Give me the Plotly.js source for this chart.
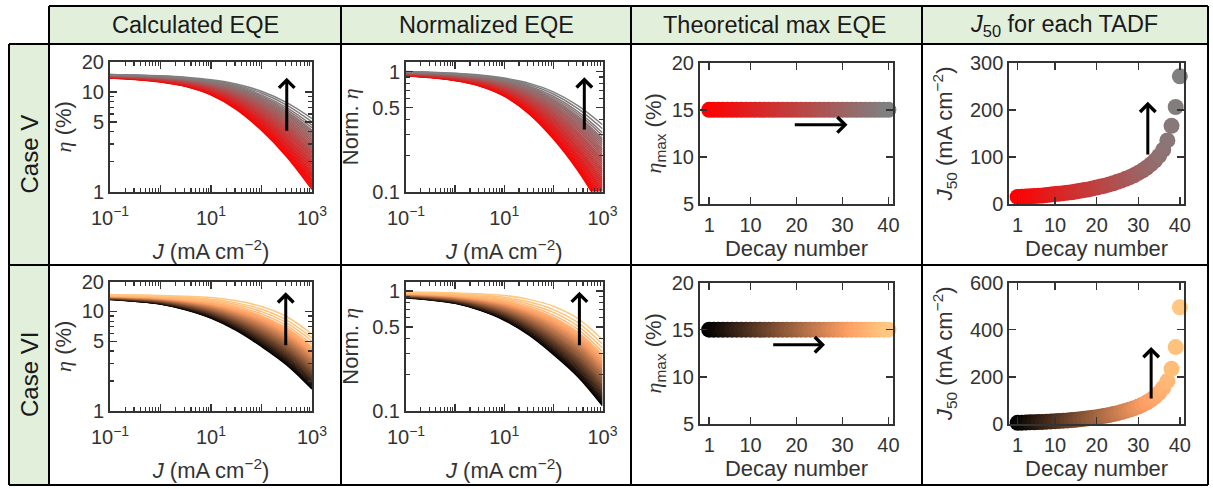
<!DOCTYPE html>
<html><head><meta charset="utf-8">
<script src="https://cdn.plot.ly/plotly-3.0.1.min.js"></script>
<style>html,body{margin:0;padding:0;background:#fff}#chart{width:1213px;height:489px}</style>
</head><body><div id="chart"></div>
<script>
// ---------------- DATA ----------------
const decayNumber = [1,2,3,4,5,6,7,8,9,10,11,12,13,14,15,16,17,18,19,20,21,22,23,24,25,26,27,28,29,30,31,32,33,34,35,36,37,38,39,40];
const J_grid = [0.1, 0.316, 1, 3.16, 10, 31.6, 100, 316, 1000]; // mA cm^-2

// Case V: EQE (%) — one row per J_grid value, one entry per decay number (1..40)
const etaV = [
[13.84,13.87,13.89,13.92,13.94,13.97,14.00,14.03,14.06,14.08,14.11,14.14,14.16,14.19,14.21,14.24,14.27,14.30,14.32,14.35,14.38,14.41,14.44,14.46,14.49,14.52,14.55,14.58,14.60,14.63,14.66,14.69,14.72,14.74,14.77,14.80,14.84,14.89,14.94,15.00],
[13.37,13.40,13.44,13.47,13.50,13.53,13.56,13.60,13.63,13.67,13.70,13.73,13.77,13.80,13.84,13.87,13.91,13.94,13.98,14.01,14.05,14.08,14.12,14.15,14.19,14.22,14.26,14.29,14.33,14.36,14.40,14.44,14.47,14.51,14.54,14.58,14.63,14.69,14.75,14.83],
[12.62,12.66,12.70,12.75,12.79,12.83,12.87,12.92,12.96,13.01,13.05,13.09,13.14,13.18,13.23,13.27,13.32,13.36,13.41,13.45,13.50,13.55,13.59,13.64,13.68,13.73,13.78,13.82,13.87,13.91,13.96,14.01,14.06,14.10,14.15,14.20,14.26,14.34,14.43,14.52],
[11.38,11.44,11.50,11.55,11.61,11.67,11.73,11.79,11.85,11.90,11.96,12.02,12.08,12.15,12.21,12.27,12.33,12.39,12.46,12.52,12.58,12.64,12.71,12.77,12.84,12.90,12.97,13.03,13.10,13.16,13.23,13.30,13.36,13.43,13.49,13.56,13.66,13.76,13.90,14.03],
[9.35,9.43,9.51,9.59,9.67,9.75,9.83,9.92,10.00,10.09,10.17,10.26,10.34,10.43,10.51,10.60,10.69,10.78,10.87,10.96,11.05,11.14,11.24,11.33,11.43,11.52,11.62,11.72,11.82,11.91,12.01,12.11,12.21,12.32,12.42,12.52,12.67,12.83,13.03,13.24],
[6.70,6.80,6.90,6.99,7.09,7.19,7.29,7.40,7.50,7.61,7.71,7.82,7.93,8.05,8.16,8.27,8.39,8.51,8.63,8.75,8.87,9.00,9.13,9.26,9.38,9.51,9.65,9.79,9.92,10.06,10.20,10.35,10.50,10.64,10.79,10.94,11.16,11.39,11.70,12.02],
[4.13,4.22,4.32,4.41,4.51,4.60,4.71,4.81,4.92,5.02,5.13,5.25,5.36,5.48,5.59,5.71,5.84,5.97,6.10,6.23,6.36,6.50,6.65,6.79,6.94,7.08,7.24,7.40,7.57,7.73,7.89,8.07,8.25,8.43,8.61,8.79,9.06,9.35,9.75,10.16],
[2.24,2.31,2.39,2.46,2.54,2.61,2.69,2.77,2.86,2.94,3.02,3.12,3.22,3.31,3.41,3.51,3.62,3.74,3.85,3.97,4.08,4.21,4.34,4.47,4.60,4.73,4.88,5.04,5.19,5.35,5.50,5.68,5.85,6.03,6.20,6.38,6.65,6.95,7.36,7.80],
[1.05,1.10,1.14,1.19,1.23,1.28,1.33,1.39,1.44,1.50,1.55,1.62,1.69,1.75,1.82,1.89,1.97,2.05,2.14,2.22,2.30,2.40,2.50,2.60,2.70,2.80,2.92,3.04,3.17,3.29,3.41,3.56,3.70,3.85,4.00,4.14,4.38,4.64,5.00,5.40]
];
// Case VI: EQE (%) — one row per J_grid value, one entry per decay number (1..40)
const etaVI = [
[13.21,13.24,13.27,13.31,13.34,13.37,13.40,13.43,13.47,13.50,13.53,13.56,13.59,13.63,13.66,13.69,13.72,13.75,13.79,13.82,13.85,13.88,13.92,13.95,13.99,14.02,14.05,14.09,14.12,14.16,14.19,14.22,14.26,14.29,14.33,14.36,14.43,14.52,14.61,14.72],
[12.65,12.69,12.73,12.77,12.81,12.85,12.89,12.93,12.98,13.02,13.06,13.10,13.15,13.19,13.24,13.28,13.32,13.36,13.41,13.45,13.49,13.53,13.58,13.62,13.67,13.71,13.75,13.80,13.84,13.89,13.93,13.98,14.02,14.07,14.11,14.16,14.26,14.38,14.51,14.66],
[11.86,11.91,11.97,12.02,12.07,12.12,12.17,12.23,12.28,12.34,12.39,12.44,12.50,12.55,12.61,12.66,12.72,12.78,12.83,12.89,12.95,13.01,13.06,13.12,13.17,13.23,13.29,13.35,13.41,13.47,13.53,13.59,13.65,13.71,13.77,13.83,13.96,14.12,14.29,14.49],
[10.40,10.47,10.54,10.62,10.69,10.76,10.84,10.91,10.99,11.06,11.14,11.22,11.30,11.37,11.45,11.53,11.61,11.69,11.77,11.85,11.93,12.01,12.10,12.18,12.27,12.35,12.44,12.52,12.61,12.69,12.78,12.87,12.96,13.04,13.13,13.22,13.42,13.66,13.92,14.22],
[8.57,8.66,8.75,8.85,8.94,9.03,9.13,9.22,9.32,9.41,9.51,9.61,9.71,9.82,9.92,10.02,10.13,10.24,10.34,10.45,10.56,10.67,10.79,10.90,11.02,11.13,11.25,11.37,11.48,11.60,11.72,11.85,11.97,12.10,12.22,12.35,12.63,12.99,13.35,13.80],
[6.46,6.56,6.66,6.76,6.86,6.96,7.07,7.18,7.28,7.39,7.50,7.62,7.73,7.85,7.96,8.08,8.21,8.33,8.46,8.58,8.71,8.85,8.98,9.12,9.25,9.39,9.54,9.68,9.83,9.97,10.12,10.28,10.44,10.59,10.75,10.91,11.27,11.72,12.20,12.79],
[4.45,4.54,4.64,4.73,4.83,4.92,5.03,5.13,5.24,5.34,5.45,5.57,5.68,5.80,5.91,6.03,6.16,6.29,6.41,6.54,6.67,6.81,6.95,7.10,7.24,7.38,7.54,7.70,7.85,8.01,8.17,8.34,8.52,8.69,8.87,9.04,9.45,9.97,10.52,11.22],
[2.90,2.97,3.05,3.12,3.20,3.27,3.36,3.44,3.53,3.61,3.70,3.80,3.89,3.99,4.08,4.18,4.29,4.40,4.51,4.62,4.73,4.85,4.97,5.10,5.22,5.34,5.48,5.62,5.76,5.90,6.04,6.20,6.35,6.51,6.66,6.82,7.19,7.67,8.19,8.85],
[1.66,1.71,1.76,1.81,1.86,1.91,1.97,2.02,2.08,2.13,2.19,2.26,2.32,2.39,2.45,2.52,2.60,2.67,2.75,2.82,2.90,2.99,3.07,3.16,3.24,3.33,3.43,3.53,3.63,3.73,3.83,3.94,4.06,4.17,4.29,4.40,4.67,5.03,5.41,5.92]
];
// Theoretical max EQE (%)
const etaMaxV  = [15,15,15,15,15,15,15,15,15,15,15,15,15,15,15,15,15,15,15,15,15,15,15,15,15,15,15,15,15,15,15,15,15,15,15,15,15,15,15,15];
const etaMaxVI = [15,15,15,15,15,15,15,15,15,15,15,15,15,15,15,15,15,15,15,15,15,15,15,15,15,15,15,15,15,15,15,15,15,15,15,15,15,15,15,15];
// J50 (mA cm^-2)
const J50_V  = [15,15.5,16,16.5,17,17.5,18,19,20,21,22,23,24,25,26.5,28,29.5,31,33,35,37,39,41.5,44,47,50,53.5,57,61,66,71,77,84,92,102,115,135,166,206,271];
const J50_VI = [5,5.5,6,7,7.5,8,9,10,11,12,13,14,15,17,18,20,22,24,26,29,32,35,38,42,46,51,56,61,67,74,82,91,102,115,132,153,182,234,326,495];

// tick labels
const logXTickVals = [0.1,1,10,100,1000];
const logXTickText = ['10<sup>−1</sup>','','10<sup>1</sup>','','10<sup>3</sup>'];
const logXMinor = [0.2,0.3,0.4,0.5,0.6,0.7,0.8,0.9,2,3,4,5,6,7,8,9,20,30,40,50,60,70,80,90,200,300,400,500,600,700,800,900];
const etaTickVals = [1,5,10,20];
const etaTickText = ['1','5','10','20'];
const etaMinor = [2,3,4,6,7,8,9];
const normTickVals = [0.1,0.5,1];
const normTickText = ['0.1','0.5','1'];
const normMinor = [0.2,0.3,0.4,0.6,0.7,0.8,0.9];
const decayTickVals = [1,10,20,30,40];
const maxTickVals = [5,10,15,20];
const j50TickValsV = [0,100,200,300];
const j50TickValsVI = [0,200,400,600];

// ---------------- STYLE / LAYOUT ----------------
const W=1213, H=489;
const FONT = 'Liberation Sans, Arial, sans-serif';
const px = x => x/W, py = y => 1 - y/H;
const csV  = [[0,[255,0,0]],[1,[128,128,128]]];
const csVI = [[0,[0,0,0]],[0.8,[255,159,101]],[1,[255,199,127]]];
const toPlotlyCS = cs => cs.map(s => [s[0], 'rgb('+s[1].join(',')+')']);
function colorAt(cs, t){
  for(let i=1;i<cs.length;i++){
    if(t<=cs[i][0]){
      const a=cs[i-1], b=cs[i], f=(t-a[0])/(b[0]-a[0]);
      return 'rgb('+a[1].map((v,k)=>Math.round(v+(b[1][k]-v)*f)).join(',')+')';
    }
  }
  return 'rgb('+cs[cs.length-1][1].join(',')+')';
}
const ETA = '<span style="font-family:Liberation Serif"><i>η</i></span>';

const traces = [];
function addCurves(eta, etaMax, cs, xa, ya, normalized){
  decayNumber.forEach((d,i)=>{
    const y = eta.map(col => normalized ? col[i]/etaMax[i] : col[i]);
    traces.push({
      type:'scatter', mode:'lines', x:J_grid, y:y,
      line:{color:colorAt(cs, i/(decayNumber.length-1)), width:1.5, shape:'spline', smoothing:1},
      xaxis:xa, yaxis:ya, hoverinfo:'skip', showlegend:false
    });
  });
}
function addMarkers(yvals, cs, xa, ya){
  traces.push({
    type:'scatter', mode:'markers', x:decayNumber, y:yvals,
    marker:{size:16, color:decayNumber, cmin:1, cmax:40, colorscale:toPlotlyCS(cs), line:{width:0}, opacity:1},
    cliponaxis:false, xaxis:xa, yaxis:ya, hoverinfo:'skip', showlegend:false
  });
}
addCurves(etaV, etaMaxV, csV, 'x', 'y', false);
addCurves(etaV, etaMaxV, csV, 'x2', 'y2', true);
addMarkers(etaMaxV, csV, 'x3', 'y3');
addMarkers(J50_V, csV, 'x4', 'y4');
addCurves(etaVI, etaMaxVI, csVI, 'x5', 'y5', false);
addCurves(etaVI, etaMaxVI, csVI, 'x6', 'y6', true);
addMarkers(etaMaxVI, csVI, 'x7', 'y7');
addMarkers(J50_VI, csVI, 'x8', 'y8');

const base = {
  showline:true, linecolor:'#333', linewidth:2, mirror:'ticks',
  ticks:'inside', ticklen:7, tickwidth:1.5, tickcolor:'#333',
  showgrid:false, zeroline:false, fixedrange:true,
  tickfont:{family:FONT, size:20, color:'#333'}
};
function ax(o){ return Object.assign({}, base, o); }
const minorStyle = v => ({tickvals:v, ticks:'inside', ticklen:4, tickwidth:1.2, tickcolor:'#333', showgrid:false});
const TFONT = {family:FONT, size:22, color:'#333'};
const JTITLE = '<i>J</i> (mA cm<sup>−2</sup>)';

const rows = [{top:62, bot:191.5, top2:62.7, bot2:204, j50:j50TickValsV, j50r:[0,300]},
              {top:281.5, bot:411, top2:282.5, bot2:424, j50:j50TickValsVI, j50r:[0,600]}];
const layout = {width:W, height:H, margin:{l:0,r:0,t:0,b:0}, paper_bgcolor:'#fff', plot_bgcolor:'rgba(0,0,0,0)',
  font:{family:FONT, color:'#333'}, showlegend:false, shapes:[], annotations:[]};

rows.forEach((r,ri)=>{
  const k = ri*4;
  const n = i => (k+i===1 ? '' : String(k+i));
  const yd = [py(r.bot), py(r.top)], yd2 = [py(r.bot2), py(r.top2)];
  layout['xaxis'+n(1)] = ax({type:'log', range:[-1,3], domain:[px(110),px(312)], anchor:'y'+n(1),
    tickmode:'array', tickvals:logXTickVals, ticktext:logXTickText, minor:minorStyle(logXMinor), ticklabelstandoff:7,
    title:{text:JTITLE, font:TFONT, standoff:16}});
  layout['yaxis'+n(1)] = ax({type:'log', range:[0,Math.log10(20)], domain:yd, anchor:'x'+n(1),
    tickmode:'array', tickvals:etaTickVals, ticktext:etaTickText, minor:minorStyle(etaMinor),
    title:{text:ETA+' (%)', font:TFONT, standoff:4}});
  layout['xaxis'+n(2)] = ax({type:'log', range:[-1,3], domain:[px(406),px(602.5)], anchor:'y'+n(2),
    tickmode:'array', tickvals:logXTickVals, ticktext:logXTickText, minor:minorStyle(logXMinor), ticklabelstandoff:7,
    title:{text:JTITLE, font:TFONT, standoff:16}});
  layout['yaxis'+n(2)] = ax({type:'log', range:[-1,0.08], domain:yd, anchor:'x'+n(2),
    tickmode:'array', tickvals:normTickVals, ticktext:normTickText, minor:minorStyle(normMinor),
    title:{text:'Norm. '+ETA, font:TFONT, standoff:7}});
  layout['xaxis'+n(3)] = ax({range:[-1,41], domain:[px(700),px(893)], anchor:'y'+n(3), ticklabelstandoff:2,
    tickmode:'array', tickvals:decayTickVals, title:{text:'Decay number', font:TFONT, standoff:5}});
  layout['yaxis'+n(3)] = ax({range:[5,20], domain:yd2, anchor:'x'+n(3),
    tickmode:'array', tickvals:maxTickVals, title:{text:ETA+'<sub>max</sub> (%)', font:TFONT, standoff:4}});
  layout['xaxis'+n(4)] = ax({range:[-1,41], domain:[px(1009.3),px(1184)], anchor:'y'+n(4), ticklabelstandoff:2,
    tickmode:'array', tickvals:decayTickVals, title:{text:'Decay number', font:TFONT, standoff:5}});
  layout['yaxis'+n(4)] = ax({range:r.j50r, domain:yd2, anchor:'x'+n(4),
    tickmode:'array', tickvals:r.j50, title:{text:'<i>J</i><sub>50</sub> (mA cm<sup>−2</sup>)', font:TFONT, standoff:11}});
});

// table: cell fills and borders
const GREEN = '#E2EFDA';
function rect(x0,y0,x1,y1){ return {type:'rect', xref:'paper', yref:'paper', x0:px(x0), x1:px(x1), y0:py(y1), y1:py(y0), fillcolor:GREEN, line:{width:0}, layer:'below'}; }
function line(x0,y0,x1,y1){ return {type:'line', xref:'paper', yref:'paper', x0:px(x0), x1:px(x1), y0:py(y0), y1:py(y1), line:{color:'#000', width:2}, layer:'above'}; }
layout.shapes.push(rect(49,6,1208,44), rect(9,44,49,485));
layout.shapes.push(line(49,6,1208,6), line(9,44,1208,44), line(9,265,1208,265), line(9,485,1208,485),
  line(9,44,9,485), line(49,6,49,485), line(341,6,341,485), line(631,6,631,485), line(922,6,922,485), line(1208,6,1208,485));

const headers = [['Calculated EQE',195],['Normalized EQE',486],['Theoretical max EQE',774],['<i>J</i><sub>50</sub> for each TADF',1064]];
headers.forEach(h=>layout.annotations.push({text:h[0], x:px(h[1]), y:py(25), xref:'paper', yref:'paper', showarrow:false,
  xanchor:'center', yanchor:'middle', font:{family:FONT, size:23.5, color:'#1a1a1a'}}));
[['Case V',154.5],['Case VI',375]].forEach(c=>layout.annotations.push({text:c[0], x:px(29), y:py(c[1]), xref:'paper', yref:'paper',
  showarrow:false, textangle:-90, xanchor:'center', yanchor:'middle', font:{family:FONT, size:24, color:'#1a1a1a'}}));

// arrows (annotation arrows in axis coordinates; log axes take log10 values)
function arrow(xa, ya, x, y, axv, ayv){
  layout.annotations.push({text:'', xref:xa, yref:ya, axref:xa, ayref:ya, x:x, y:y, ax:axv, ay:ayv,
    showarrow:true, arrowhead:4, arrowsize:1, arrowwidth:3, arrowcolor:'#000'});
}
arrow('x','y', 2.50, 1.144, 2.50, 0.595);
arrow('x2','y2', 2.63, -0.048, 2.63, -0.495);
arrow('x3','y3', 31.1, 13.4, 19.3, 13.4);
arrow('x4','y4', 32.3, 217, 32.3, 102);
arrow('x5','y5', 2.48, 1.193, 2.48, 0.646);
arrow('x6','y6', 2.53, -0.005, 2.53, -0.464);
arrow('x7','y7', 26.2, 13.4, 14.6, 13.4);
arrow('x8','y8', 33.1, 326, 33.1, 102);

Plotly.newPlot('chart', traces, layout, {staticPlot:true, displayModeBar:false});
</script>
</body></html>
